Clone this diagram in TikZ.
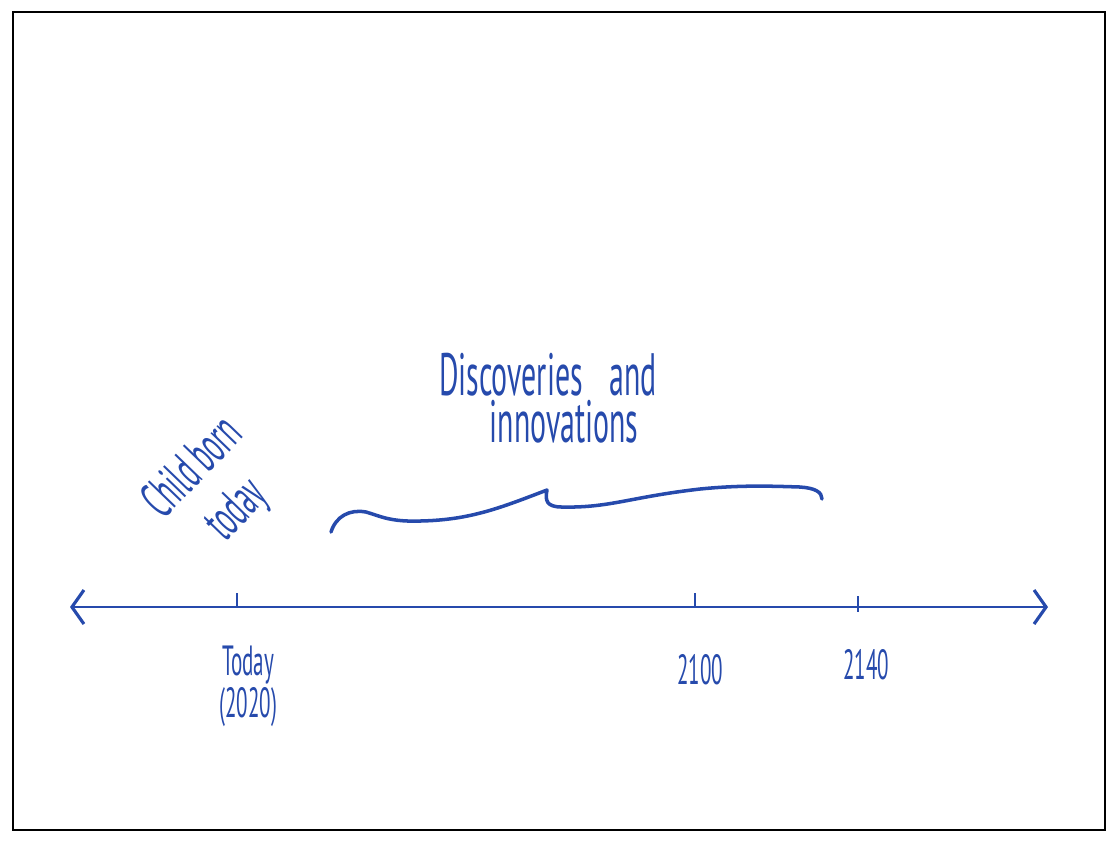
\documentclass[tikz,border=0pt]{standalone}
\usepackage{fontspec}
\newfontfamily\handfont{PT Sans}
\usetikzlibrary{arrows.meta}
\definecolor{inkblue}{RGB}{38,74,172}
\newcommand{\narrow}[1]{\scalebox{0.5}[1]{#1}}

\begin{document}
\begin{tikzpicture}[x=0.01cm,y=-0.01cm,>={Straight Barb[length=1.2mm,width=3.4mm,line width=0.9pt]}]
    \tikzset{
        ink/.style={inkblue,line width=0.45pt},
        yeartick/.style={inkblue,line width=0.6pt},
        hand/.style={inkblue,font=\handfont,align=center,inner sep=0pt}
    }
    \useasboundingbox (0,0) rectangle (1118,850);

    % Frame
    \draw[line width=0.7pt] (13,12) rectangle (1105,830);

    % Time axis
    \coordinate (past) at (70,607);
    \coordinate (future) at (1048,607);
    \draw[ink,<->] (past)--(future);

    % Ticks
    \coordinate (t2020) at (237,607);
    \coordinate (t2100) at (695,607);
    \coordinate (t2140) at (858,607);
    \draw[yeartick] (t2020)--++(0,-14);
    \draw[yeartick] (t2100)--++(0,-14);
    \draw[yeartick] (t2140)--++(0,-11) (t2140)--++(0,5);

    % Year labels
    \node[hand,font=\handfont\fontsize{12}{12}\selectfont] (today) at (248,686) {\narrow{Today}\\\narrow{(2020)}};
    \node[hand,font=\handfont\fontsize{12}{12}\selectfont] (y2100) at (700,670) {\narrow{2100}};
    \node[hand,font=\handfont\fontsize{12}{12}\selectfont] (y2140) at (866,665) {\narrow{2140}};

    % Child
    \node[hand,rotate=46,font=\handfont\fontsize{15}{17}\selectfont] (child) at (216,490) {\narrow{Child born}\\\narrow{today}};

    % Discoveries
    \node[hand,font=\handfont\fontsize{17}{13.5}\selectfont] (discov) at (548,375) {\narrow{Discoveries\hspace{0.9em}and}};
    \node[hand,font=\handfont\fontsize{17}{13.5}\selectfont] (innov) at (564,422) {\narrow{innovations}};

    % Brace
    \draw[inkblue,line width=1pt,line cap=round,line join=round]
        (331,532) .. controls (336,516) and (350,509) .. (366,512)
        .. controls (380,516) and (390,522) .. (420,521)
        .. controls (470,520) and (500,508) .. (547,490)
        .. controls (545,500) and (546,507) .. (562,507)
        .. controls (610,508) and (630,497) .. (700,489)
        .. controls (740,485) and (770,486) .. (800,487)
        .. controls (815,488) and (822,492) .. (822,499);
\end{tikzpicture}
\end{document}
